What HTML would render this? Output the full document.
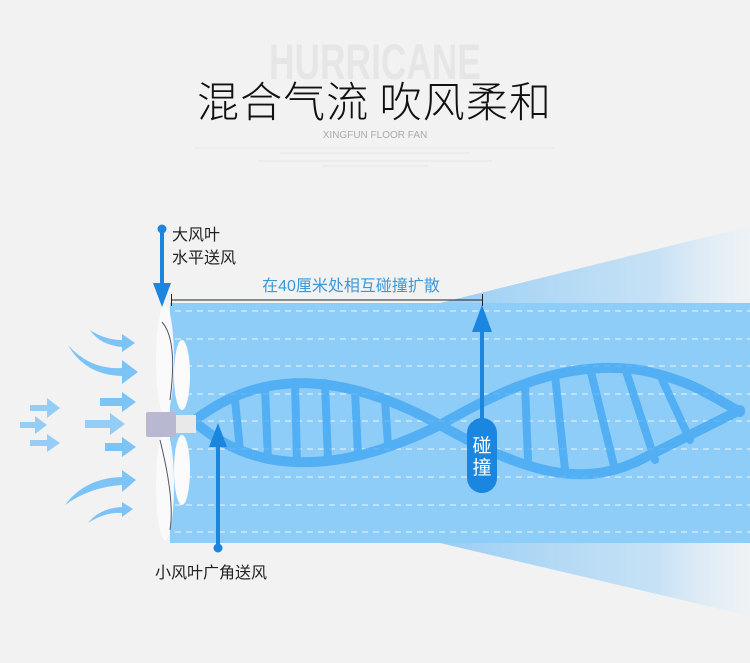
<!DOCTYPE html>
<html><head><meta charset="utf-8"><style>
html,body{margin:0;padding:0;background:#f2f2f2;}
body{width:750px;height:663px;overflow:hidden;position:relative;font-family:"Liberation Sans","Noto Sans CJK SC",sans-serif;}
</style></head><body>
<svg width="750" height="663" viewBox="0 0 750 663" xmlns="http://www.w3.org/2000/svg" style="position:absolute;left:0;top:0">
<defs>
<linearGradient id="cone" x1="0" x2="1" y1="0" y2="0">
<stop offset="0" stop-color="#8fcaf5" stop-opacity="0.9"/>
<stop offset="0.7" stop-color="#a9d6f7" stop-opacity="0.6"/>
<stop offset="1" stop-color="#e4f1fb" stop-opacity="0.3"/>
</linearGradient>
</defs>
<text x="375" y="79" text-anchor="middle" font-family="Liberation Sans" font-weight="bold" font-size="50" fill="#e6e6e6" textLength="212" lengthAdjust="spacingAndGlyphs">HURRICANE</text>
<text x="374" y="117" text-anchor="middle" font-size="42" fill="#111" font-family="Noto Sans CJK SC, sans-serif" font-weight="300" textLength="354" lengthAdjust="spacing">混合气流 吹风柔和</text>
<text x="375" y="138" text-anchor="middle" font-size="10" fill="#aaa">XINGFUN FLOOR FAN</text>
<g stroke="#e6e6e6" stroke-width="1"><line x1="195" y1="148" x2="555" y2="148"/><line x1="280" y1="153" x2="470" y2="153"/><line x1="258" y1="161" x2="492" y2="161"/><line x1="322" y1="166" x2="428" y2="166"/></g>
<polygon points="440,303 750,226 750,616 440,543" fill="url(#cone)"/>
<rect x="170" y="303" width="580" height="240" fill="#8fcdf9"/>
<g stroke="#fff" stroke-width="1" stroke-dasharray="6,5" opacity="0.85">
<line x1="175" y1="311" x2="750" y2="311"/><line x1="175" y1="339" x2="750" y2="339"/><line x1="175" y1="366" x2="750" y2="366"/><line x1="175" y1="394" x2="750" y2="394"/><line x1="175" y1="421" x2="750" y2="421"/><line x1="175" y1="449" x2="750" y2="449"/><line x1="175" y1="477" x2="750" y2="477"/><line x1="175" y1="505" x2="750" y2="505"/><line x1="175" y1="532" x2="750" y2="532"/>
</g>
<g fill="none" stroke="#3ea6f2" stroke-linecap="round" opacity="0.75">
<path d="M195,420 C260,370 340,370 440,425 C520,470 580,490 640,460 C690,435 720,420 740,410" stroke-width="10"/>
<path d="M195,422 C260,480 350,470 440,425 C510,385 570,360 640,370 C690,380 710,395 740,412" stroke-width="10"/>
<g stroke-width="8">
<line x1="235" y1="400" x2="240" y2="450"/><line x1="265" y1="388" x2="268" y2="460"/><line x1="295" y1="382" x2="297" y2="462"/><line x1="325" y1="383" x2="328" y2="460"/><line x1="355" y1="390" x2="358" y2="455"/><line x1="385" y1="400" x2="388" y2="445"/>
<line x1="525" y1="385" x2="528" y2="460"/><line x1="555" y1="375" x2="565" y2="470"/><line x1="590" y1="368" x2="615" y2="470"/><line x1="625" y1="368" x2="655" y2="460"/><line x1="660" y1="375" x2="690" y2="440"/>
</g>
</g>
<g fill="#7cc4f6">
<path d="M90,330 Q105,340 122,340 L122,334 L135,343 L122,352 L122,347 Q100,345 90,330Z"/>
<path d="M68,345 Q90,370 122,368 L122,360 L138,372 L122,384 L122,376 Q85,375 68,345Z"/>
<path d="M30,405 L47,405 L47,398 L60,408 L47,418 L47,411 L30,411Z" opacity="0.8"/>
<path d="M20,422 L35,422 L35,416 L47,425 L35,434 L35,428 L20,428Z" opacity="0.8"/>
<path d="M30,440 L47,440 L47,434 L60,443 L47,452 L47,446 L30,446Z" opacity="0.8"/>
<path d="M100,398 L122,398 L122,392 L136,402 L122,412 L122,406 L100,406Z"/>
<path d="M85,420 L110,420 L110,413 L125,424 L110,435 L110,428 L85,428Z" opacity="0.8"/>
<path d="M105,443 L122,443 L122,437 L136,447 L122,457 L122,451 L105,451Z"/>
<path d="M65,505 Q85,478 122,477 L122,470 L136,480 L122,492 L122,485 Q90,487 65,505Z"/>
<path d="M88,523 Q100,508 122,507 L122,502 L133,509 L122,517 L122,513 Q105,512 88,523Z"/>
</g>
<g>
<ellipse cx="165" cy="360" rx="9" ry="55" fill="#fafafa" opacity="0.95"/>
<ellipse cx="165" cy="485" rx="9" ry="55" fill="#fafafa" opacity="0.95"/>
<ellipse cx="182" cy="375" rx="8" ry="35" fill="#fbfbfb"/>
<ellipse cx="182" cy="470" rx="8" ry="35" fill="#fbfbfb"/>
<rect x="146" y="412" width="30" height="25" fill="#b8b8d0" rx="2"/>
<rect x="176" y="415" width="20" height="18" fill="#e9e9e9"/>
<path d="M162,322 Q178,340 170,400 M160,440 Q175,500 170,530" stroke="#556" stroke-width="1" fill="none"/>
</g>
<g fill="#1a86e0" stroke="#1a86e0">
<circle cx="162" cy="229" r="4"/>
<line x1="162" y1="229" x2="162" y2="290" stroke-width="4"/>
<polygon points="153,283 171,283 162,307" stroke="none"/>
<circle cx="218" cy="548" r="4"/>
<line x1="218" y1="548" x2="218" y2="440" stroke-width="4"/>
<polygon points="209,447 227,447 218,423" stroke="none"/>
<line x1="482" y1="420" x2="482" y2="325" stroke-width="4"/>
<polygon points="472,332 492,332 482,305" stroke="none"/>
<rect x="467" y="418" width="30" height="75" rx="15" stroke="none"/>
</g>
<g stroke="#222" stroke-width="1"><line x1="171" y1="300" x2="482" y2="300"/><line x1="171.5" y1="294" x2="171.5" y2="306"/><line x1="482.5" y1="294" x2="482.5" y2="306"/></g>
<text x="351" y="291" text-anchor="middle" font-size="16" fill="#3a9ad9">在40厘米处相互碰撞扩散</text>
<text x="482" y="452" text-anchor="middle" font-size="19" fill="#fff">碰</text>
<text x="482" y="474" text-anchor="middle" font-size="19" fill="#fff">撞</text>
<text x="172" y="240" font-size="16" fill="#222">大风叶</text>
<text x="172" y="263" font-size="16" fill="#222">水平送风</text>
<text x="155" y="578" font-size="16" fill="#222">小风叶广角送风</text>
</svg>
</body></html>
